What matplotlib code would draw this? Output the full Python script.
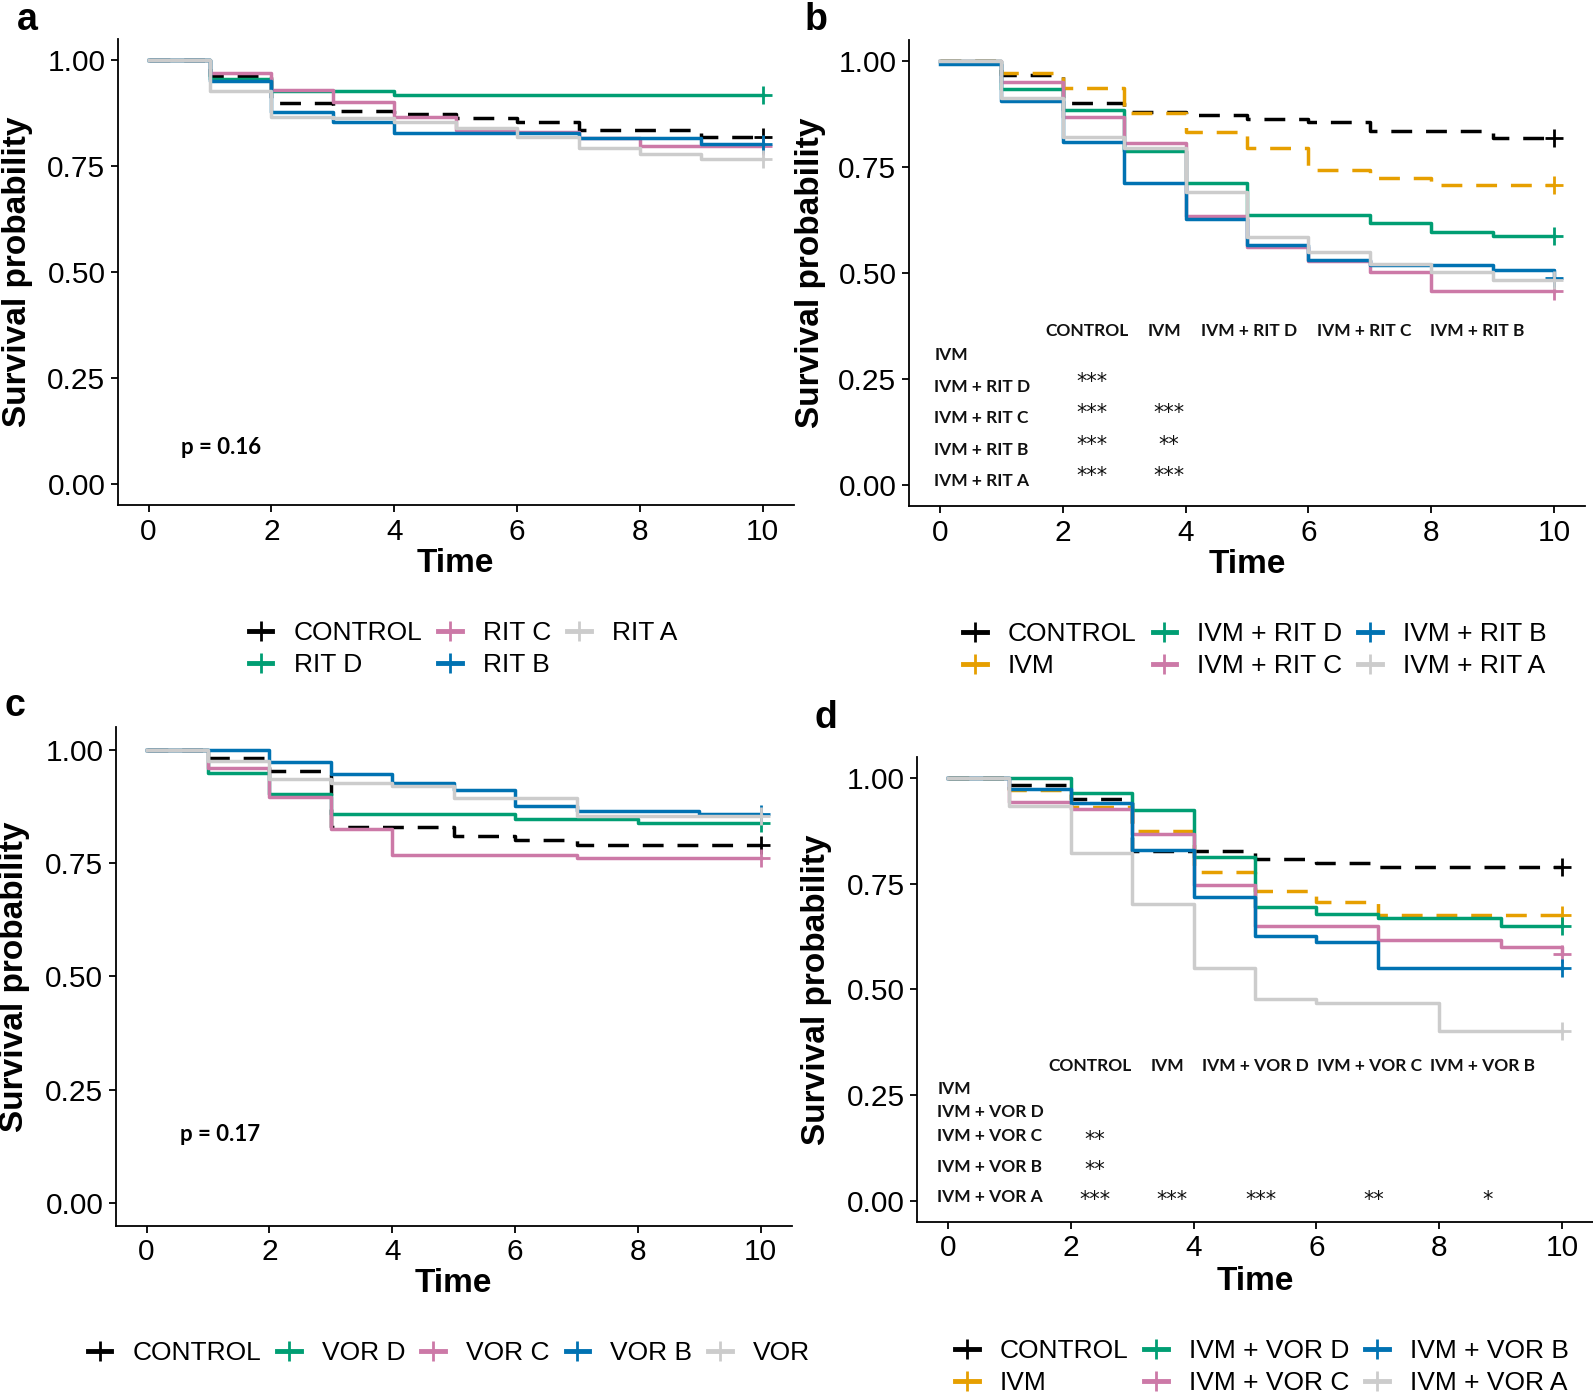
import matplotlib
matplotlib.use("Agg")
import matplotlib.pyplot as plt
from matplotlib.lines import Line2D

plt.rcParams['font.family'] = ['Liberation Sans', 'DejaVu Sans']

# ---- data: survival at each day (value after the step at that time) ----
times = list(range(11))

a_labels = ["CONTROL", "RIT D", "RIT C", "RIT B", "RIT A"]
a_control = [1.0, 0.961, 0.898, 0.880, 0.871, 0.862, 0.853, 0.834, 0.834, 0.817, 0.817]
a_rit_d = [1.0, 0.955, 0.927, 0.927, 0.918, 0.918, 0.918, 0.918, 0.918, 0.918, 0.918]
a_rit_c = [1.0, 0.969, 0.929, 0.900, 0.866, 0.834, 0.829, 0.815, 0.797, 0.797, 0.797]
a_rit_b = [1.0, 0.951, 0.876, 0.853, 0.827, 0.827, 0.827, 0.815, 0.815, 0.801, 0.801]
a_rit_a = [1.0, 0.927, 0.866, 0.863, 0.854, 0.839, 0.817, 0.792, 0.779, 0.767, 0.767]

b_labels = ["CONTROL", "IVM", "IVM + RIT D", "IVM + RIT C", "IVM + RIT B", "IVM + RIT A"]
b_control = [1.0, 0.966, 0.901, 0.880, 0.872, 0.863, 0.855, 0.835, 0.835, 0.818, 0.818]
b_ivm = [1.0, 0.972, 0.937, 0.876, 0.831, 0.795, 0.742, 0.724, 0.706, 0.706, 0.706]
b_rit_d = [1.0, 0.933, 0.885, 0.787, 0.712, 0.636, 0.636, 0.617, 0.597, 0.587, 0.587]
b_rit_c = [1.0, 0.949, 0.868, 0.807, 0.634, 0.561, 0.528, 0.501, 0.458, 0.458, 0.458]
b_rit_b = [0.992, 0.905, 0.809, 0.712, 0.628, 0.566, 0.531, 0.519, 0.519, 0.507, 0.488]
b_rit_a = [1.0, 0.913, 0.820, 0.795, 0.691, 0.584, 0.548, 0.520, 0.502, 0.482, 0.482]

c_labels = ["CONTROL", "VOR D", "VOR C", "VOR B", "VOR"]
c_control = [1.0, 0.982, 0.953, 0.829, 0.829, 0.809, 0.800, 0.790, 0.790, 0.790, 0.790]
c_vor_d = [1.0, 0.949, 0.902, 0.859, 0.859, 0.859, 0.848, 0.848, 0.838, 0.838, 0.838]
c_vor_c = [1.0, 0.960, 0.896, 0.824, 0.767, 0.767, 0.767, 0.761, 0.761, 0.761, 0.761]
c_vor_b = [1.0, 1.0, 0.973, 0.947, 0.927, 0.910, 0.875, 0.865, 0.865, 0.857, 0.857]
c_vor = [1.0, 0.976, 0.935, 0.926, 0.919, 0.893, 0.893, 0.853, 0.853, 0.853, 0.853]

d_labels = ["CONTROL", "IVM", "IVM + VOR D", "IVM + VOR C", "IVM + VOR B", "IVM + VOR A"]
d_control = [1.0, 0.983, 0.951, 0.827, 0.827, 0.809, 0.800, 0.790, 0.790, 0.790, 0.790]
d_ivm = [1.0, 0.971, 0.931, 0.874, 0.778, 0.734, 0.707, 0.677, 0.677, 0.677, 0.677]
d_vor_d = [1.0, 1.0, 0.965, 0.924, 0.813, 0.695, 0.679, 0.670, 0.670, 0.651, 0.651]
d_vor_c = [1.0, 0.943, 0.927, 0.868, 0.748, 0.650, 0.650, 0.618, 0.618, 0.600, 0.584]
d_vor_b = [1.0, 0.975, 0.942, 0.831, 0.720, 0.626, 0.612, 0.550, 0.550, 0.550, 0.550]
d_vor_a = [1.0, 0.935, 0.823, 0.703, 0.551, 0.478, 0.468, 0.468, 0.403, 0.403, 0.403]

# pairwise tables (rows x columns), "" = not significant
b_rows = ["IVM", "IVM + RIT D", "IVM + RIT C", "IVM + RIT B", "IVM + RIT A"]
b_cols = ["CONTROL", "IVM", "IVM + RIT D", "IVM + RIT C", "IVM + RIT B"]
b_sig = [["", "", "", "", ""],
         ["***", "", "", "", ""],
         ["***", "***", "", "", ""],
         ["***", "**", "", "", ""],
         ["***", "***", "", "", ""]]
d_rows = ["IVM", "IVM + VOR D", "IVM + VOR C", "IVM + VOR B", "IVM + VOR A"]
d_cols = ["CONTROL", "IVM", "IVM + VOR D", "IVM + VOR C", "IVM + VOR B"]
d_sig = [["", "", "", "", ""],
         ["", "", "", "", ""],
         ["**", "", "", "", ""],
         ["**", "", "", "", ""],
         ["***", "***", "***", "**", "*"]]

BLACK, ORANGE, GREEN, PINK, BLUE, GREY = "#000000", "#E69F00", "#009E73", "#CC79A7", "#0072B2", "#CCCCCC"
DASH = (0, (6, 4))
LW = 2.5

W, H = 1593, 1394
fig = plt.figure(figsize=(W / 100, H / 100), dpi=100)
fig.patch.set_facecolor("white")


def axes_px(l, r, t, b):
    return fig.add_axes([l / W, 1 - b / H, (r - l) / W, (b - t) / H])


def panel(ax, curves, labels, colors, styles, ylab_x, xlab_y):
    for s, c, ls in zip(curves, colors, styles):
        ax.step(times, s, where="post", color=c, lw=LW, linestyle=ls)
        ax.plot(times[-1], s[-1], marker="+", ms=13, mew=2, color=c, ls="none")
    ax.set_xlim(-0.5, 10.5)
    ax.set_ylim(-0.05, 1.05)
    ax.set_xticks(range(0, 11, 2))
    ax.set_yticks([0, 0.25, 0.5, 0.75, 1.0])
    ax.set_yticklabels(["0.00", "0.25", "0.50", "0.75", "1.00"])
    for sp in ("top", "right"):
        ax.spines[sp].set_visible(False)
    for sp in ("left", "bottom"):
        ax.spines[sp].set_linewidth(1.3)
    ax.tick_params(length=5, width=1.3, labelsize=21.5, pad=4, colors="black")
    ax.set_ylabel("Survival probability", fontsize=24, fontweight="bold", va="center")
    ax.set_xlabel("Time", fontsize=24, fontweight="bold", va="center")
    ax.yaxis.set_label_coords(ylab_x, 0.5)
    ax.xaxis.set_label_coords(0.5, xlab_y)


def legend(ax, labels, colors, styles, ncol, cx, cy):
    hs = [Line2D([0], [0], color=c, lw=LW + 1, ls="-", marker="+", ms=14, mew=2)
          for c, ls in zip(colors, styles)]
    fig.legend(hs, labels, loc="center", bbox_to_anchor=(cx / W, 1 - cy / H), ncol=ncol,
               frameon=False, fontsize=19, handlelength=0.9, handletextpad=0.8,
               columnspacing=0.6, labelspacing=0.3, borderaxespad=0)


def table(ax, rows, cols, sig, col_x, head_y, row_y, row_x, star_dy):
    kw = dict(family=["Lato", "DejaVu Sans"], fontweight="bold", fontsize=12.5, color="#111111")
    for x, t in zip(col_x, cols):
        ax.text(x, head_y, t, ha="center", va="center", **kw)
    for i, (y, t) in enumerate(zip(row_y, rows)):
        ax.text(row_x, y, t, ha="left", va="center", **kw)
        for x, s in zip(col_x, sig[i]):
            if s:
                ax.text(x + 0.08, y + star_dy, s, ha="center", va="center",
                        family=["DejaVu Sans"], fontsize=15, color="#111111")


# ---- panel a ----
ax = axes_px(117.9, 793.5, 38.6, 505)
cols_a = [BLACK, GREEN, PINK, BLUE, GREY]
sty_a = [DASH, "-", "-", "-", "-"]
panel(ax, [a_control, a_rit_d, a_rit_c, a_rit_b, a_rit_a], a_labels, cols_a, sty_a, -0.149, -0.1265)
ax.text(0.52, 0.086, "p = 0.16", ha="left", va="center", family=["Lato", "DejaVu Sans"],
        fontweight="bold", fontsize=16)
legend(ax, a_labels, cols_a, sty_a, 3, 463, 649)

# ---- panel b ----
ax = axes_px(909, 1585, 39.6, 506)
cols_b = [BLACK, ORANGE, GREEN, PINK, BLUE, GREY]
sty_b = [DASH, DASH, "-", "-", "-", "-"]
panel(ax, [b_control, b_ivm, b_rit_d, b_rit_c, b_rit_b, b_rit_a], b_labels, cols_b, sty_b, -0.145, -0.1265)
table(ax, b_rows, b_cols, b_sig, [2.40, 3.65, 5.03, 6.90, 8.75], 0.362,
      [0.305, 0.230, 0.157, 0.082, 0.008], -0.09, 0.012)
legend(ax, b_labels, cols_b, sty_b, 3, 1255, 650)

# ---- panel c ----
ax = axes_px(115.8, 791.5, 727, 1225.6)
cols_c = [BLACK, GREEN, PINK, BLUE, GREY]
sty_c = [DASH, "-", "-", "-", "-"]
panel(ax, [c_control, c_vor_d, c_vor_c, c_vor_b, c_vor], c_labels, cols_c, sty_c, -0.150, -0.117)
ax.text(0.55, 0.152, "p = 0.17", ha="left", va="center", family=["Lato", "DejaVu Sans"],
        fontweight="bold", fontsize=16)
legend(ax, c_labels, cols_c, sty_c, 5, 449, 1353)

# ---- panel d ----
ax = axes_px(917, 1593, 757, 1222)
cols_d = [BLACK, ORANGE, GREEN, PINK, BLUE, GREY]
sty_d = [DASH, DASH, "-", "-", "-", "-"]
panel(ax, [d_control, d_ivm, d_vor_d, d_vor_c, d_vor_b, d_vor_a], d_labels, cols_d, sty_d, -0.149, -0.129)
table(ax, d_rows, d_cols, d_sig, [2.32, 3.57, 5.01, 6.86, 8.71], 0.320,
      [0.265, 0.210, 0.153, 0.080, 0.009], -0.17, -0.008)
legend(ax, d_labels, cols_d, sty_d, 3, 1262, 1367)

# panel letters
for x, y, t in [(17, 2, "a"), (805, 2, "b"), (5, 688, "c"), (815, 700, "d")]:
    fig.text(x / W, 1 - y / H, t, ha="left", va="top", fontsize=27, fontweight="bold")

fig.savefig("out.png", dpi=100, facecolor="white")
